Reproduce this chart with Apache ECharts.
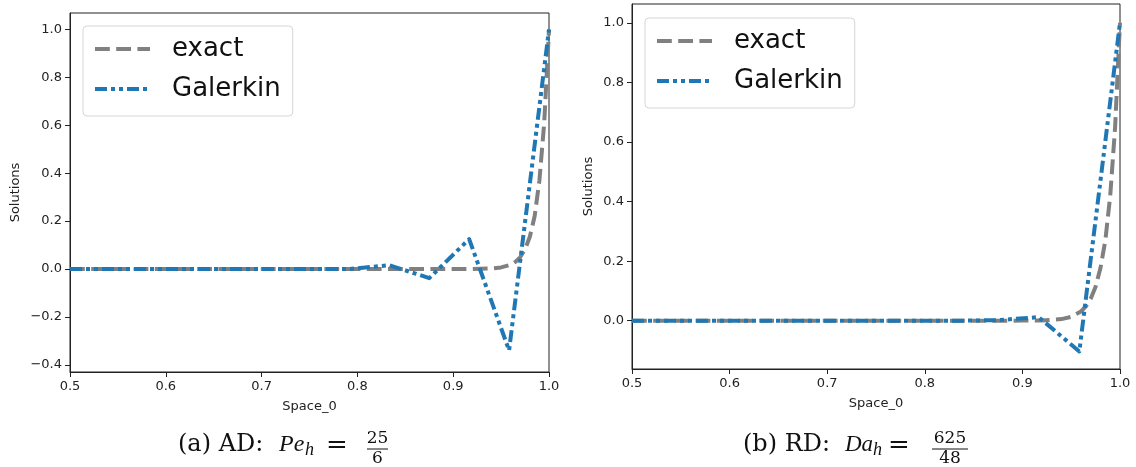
<!DOCTYPE html>
<html>
<head>
<meta charset="utf-8">
<script src="https://cdn.jsdelivr.net/npm/echarts@6/dist/echarts.min.js"></script>
<style>
  html, body { margin: 0; padding: 0; background: #fff; }
  #chart { width: 1136px; height: 467px; }
</style>
</head>
<body>
<div id="chart"></div>
<script>
// Galerkin nodal values on the mesh (x = 0.5 ... 1.0, step 1/24)
const nodeX = [0.5, 0.541667, 0.583333, 0.625, 0.666667, 0.708333, 0.75, 0.791667, 0.833333, 0.875, 0.916667, 0.958333, 1.0];
const galerkinAD = [0, 0, 0, 0, 0, 0, 0, 0, 0.016, -0.038, 0.125, -0.34, 1.0];
const galerkinRD = [0, 0, 0, 0, 0, 0, 0, 0, 0, 0.002, 0.012, -0.103, 1.0];

// Exact solutions sampled on a finer set of points
const exactX  = [0.5, 0.6, 0.7, 0.8, 0.85, 0.9, 0.92, 0.94, 0.95, 0.96, 0.965, 0.97, 0.975, 0.98, 0.985, 0.99, 0.995, 1.0];
const exactAD = [0, 0, 0, 0, 0, 0.00005, 0.0003, 0.0025, 0.0067, 0.018, 0.03, 0.05, 0.082, 0.135, 0.22, 0.37, 0.61, 1.0];
const exactRD = [0, 0, 0, 0, 0.0001, 0.0004, 0.001, 0.0055, 0.013, 0.031, 0.048, 0.074, 0.114, 0.177, 0.27, 0.42, 0.65, 1.0];

// Tick positions
const xTicks   = [0.5, 0.6, 0.7, 0.8, 0.9, 1.0];
const yTicksAD = [-0.4, -0.2, 0.0, 0.2, 0.4, 0.6, 0.8, 1.0];
const yTicksRD = [0.0, 0.2, 0.4, 0.6, 0.8, 1.0];

const seriesNames = ['exact', 'Galerkin'];

const pairs = (xs, ys) => xs.map((x, i) => [x, ys[i]]);
const fmt = v => (v < 0 ? '\u2212' : '') + Math.abs(v).toFixed(1);

const INK = '#222';
const GRAY = '#808080';
const BLUE = '#1f77b4';
const SANS = 'DejaVu Sans';
const SERIF = 'DejaVu Serif';
const MATH = 'Liberation Serif';

function xAxisFor(gridIndex) {
  return {
    type: 'value', gridIndex, min: 0.5, max: 1.0,
    name: 'Space_0', nameLocation: 'middle', nameGap: 28,
    nameTextStyle: { fontFamily: SANS, fontSize: 13, color: INK },
    axisLine: { show: true, onZero: false, lineStyle: { color: INK, width: 1 } },
    axisTick: { show: true, length: 5, customValues: xTicks, lineStyle: { color: INK } },
    axisLabel: { customValues: xTicks, formatter: fmt, margin: 8, fontFamily: SANS, fontSize: 13, color: INK },
    splitLine: { show: false }
  };
}
function yAxisFor(gridIndex, min, max, ticks, gap) {
  return {
    type: 'value', gridIndex, min, max,
    name: 'Solutions', nameLocation: 'middle', nameGap: gap,
    nameTextStyle: { fontFamily: SANS, fontSize: 13, color: INK },
    axisLine: { show: true, onZero: false, lineStyle: { color: INK, width: 1 } },
    axisTick: { show: true, length: 5, customValues: ticks, lineStyle: { color: INK } },
    axisLabel: { customValues: ticks, formatter: fmt, margin: 8, fontFamily: SANS, fontSize: 13, color: INK },
    splitLine: { show: false }
  };
}
function exactSeries(idx, data) {
  return {
    name: seriesNames[0], type: 'line', xAxisIndex: idx, yAxisIndex: idx,
    data, symbol: 'none', showSymbol: false, animation: false,
    lineStyle: { color: GRAY, width: 4, type: [14.8, 6.4], cap: 'butt', join: 'round' },
    itemStyle: { color: GRAY }, z: 2
  };
}
function galerkinSeries(idx, data) {
  return {
    name: seriesNames[1], type: 'line', xAxisIndex: idx, yAxisIndex: idx,
    data, symbol: 'none', showSymbol: false, animation: false,
    lineStyle: { color: BLUE, width: 4, type: [12, 4, 4, 4, 4, 4], cap: 'butt', join: 'round' },
    itemStyle: { color: BLUE }, z: 3
  };
}
function legendAt(left, top) {
  return {
    data: seriesNames, orient: 'vertical', left, top,
    itemWidth: 55, itemHeight: 14, itemGap: 10,
    padding: [8, 12, 12, 10],
    backgroundColor: 'rgba(255,255,255,0.8)', borderColor: '#d6d6d6', borderWidth: 1, borderRadius: 4,
    itemStyle: { color: 'rgba(0,0,0,0)', borderWidth: 0, opacity: 0 },
    lineStyle: { width: 4, cap: 'butt' },
    textStyle: { fontFamily: SANS, fontSize: 26, lineHeight: 30, color: '#111', padding: [0, 0, 0, 17] },
    selectedMode: false
  };
}

// Caption pieces: plain text, italic symbol, subscript, equals sign, stacked fraction
function caption(x0, lead, sym, symX, symSize, subX, eqX, fracX, num, den, barW) {
  const t = (text, x, y, size, family, italic, align) => ({
    type: 'text', x, y, silent: true,
    style: { text, fill: '#111', fontFamily: family, fontSize: size, fontStyle: italic ? 'italic' : 'normal',
             textAlign: align || 'left', align: align || 'left', textVerticalAlign: 'middle', verticalAlign: 'middle' }
  });
  return [
    t(lead, x0, 445, 24, SERIF, false),
    t(sym, symX, 445, symSize, MATH, true),
    t('h', subX, 450, 18, MATH, true),
    t('=', eqX, 446, 26, SERIF, false, 'center'),
    t(num, fracX, 439, 17, SERIF, false, 'center'),
    { type: 'line', silent: true, shape: { x1: fracX - barW / 2, y1: 449, x2: fracX + barW / 2, y2: 449 },
      style: { stroke: '#111', lineWidth: 1 } },
    t(den, fracX, 459, 17, SERIF, false, 'center')
  ];
}

const chart = echarts.init(document.getElementById('chart'), null, { renderer: 'canvas' });
chart.setOption({
  backgroundColor: '#fff',
  animation: false,
  grid: [
    { left: 70, top: 13, width: 479, height: 359, show: true, borderColor: INK, borderWidth: 1, backgroundColor: '#fff' },
    { left: 632, top: 4, width: 488, height: 365, show: true, borderColor: INK, borderWidth: 1, backgroundColor: '#fff' }
  ],
  xAxis: [xAxisFor(0), xAxisFor(1)],
  yAxis: [
    yAxisFor(0, -0.43, 1.069, yTicksAD, 48),
    yAxisFor(1, -0.162, 1.063, yTicksRD, 37)
  ],
  legend: [legendAt(83, 26), legendAt(645, 18)],
  series: [
    exactSeries(0, pairs(exactX, exactAD)),
    galerkinSeries(0, pairs(nodeX, galerkinAD)),
    exactSeries(1, pairs(exactX, exactRD)),
    galerkinSeries(1, pairs(nodeX, galerkinRD))
  ],
  graphic: [
    ...caption(178, '(a) AD:', 'Pe', 279, 24, 305, 337, 377.5, '25', '6', 21),
    ...caption(743, '(b) RD:', 'Da', 845, 23, 873, 899, 950, '625', '48', 36)
  ]
});
</script>
</body>
</html>
